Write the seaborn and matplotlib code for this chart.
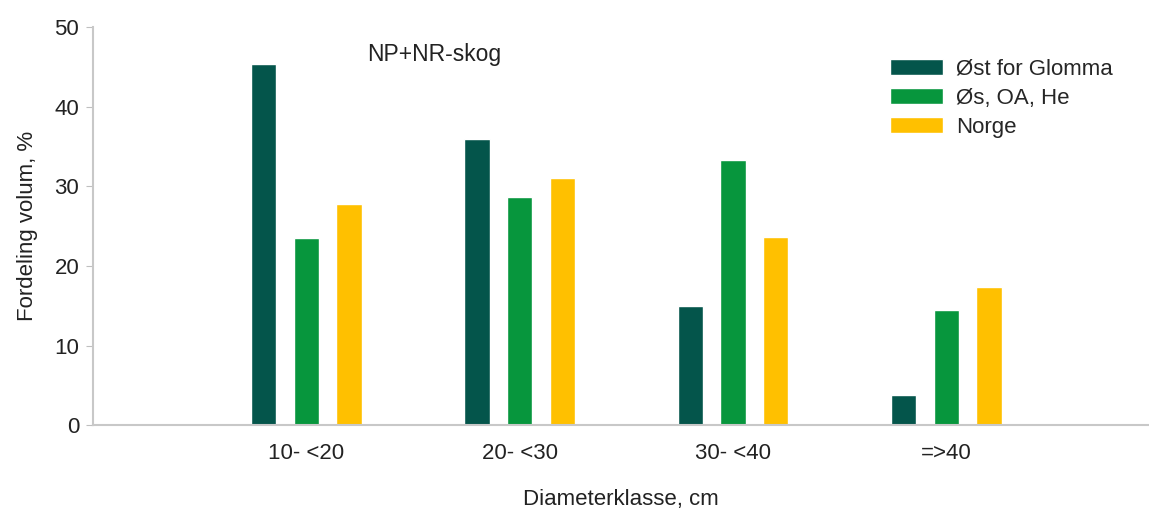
import matplotlib
matplotlib.use('Agg')
import matplotlib.pyplot as plt
import seaborn as sns
import pandas as pd

categories = ['10- <20', '20- <30', '30- <40', '=>40']
series = ['Øst for Glomma', 'Øs, OA, He', 'Norge']
ost_for_glomma = [45.3, 35.9, 15.0, 3.8]
os_oa_he = [23.5, 28.7, 33.3, 14.4]
norge = [27.8, 31.0, 23.6, 17.3]
colors = ['#04554B', '#07963D', '#FFC000']

sns.set_style('white')
plt.rcParams['font.family'] = ['Liberation Sans', 'DejaVu Sans']

rows = []
for name, vals in zip(series, [ost_for_glomma, os_oa_he, norge]):
    for cat, v in zip(categories, vals):
        rows.append({'Diameterklasse': cat, 'Serie': name, 'Verdi': v})
data = pd.DataFrame(rows)

fig = plt.figure(figsize=(11.49, 5.08), dpi=100)
ax = fig.add_axes([0.081, 0.163, 0.919, 0.784])

sns.barplot(data=data, x='Diameterklasse', y='Verdi', hue='Serie',
            order=categories, hue_order=series, palette=colors,
            width=0.6, gap=0.41, ax=ax, saturation=1)

ax.set_xlim(-1, 3.95)
ax.set_ylim(0, 50)
ax.set_yticks([0, 10, 20, 30, 40, 50])
ax.tick_params(axis='y', left=True, length=5, color='#BFBFBF', labelsize=16,
               labelcolor='#222222', pad=5)
ax.tick_params(axis='x', bottom=False, labelsize=16, labelcolor='#222222', pad=9)
for s in ['top', 'right']:
    ax.spines[s].set_visible(False)
for s in ['left', 'bottom']:
    ax.spines[s].set_color('#C8C8C8')
    ax.spines[s].set_linewidth(1.5)

ax.set_xlabel('Diameterklasse, cm', fontsize=16, color='#222222', labelpad=18)
ax.set_ylabel('Fordeling volum, %', fontsize=16, color='#222222', labelpad=12)

ax.text(0.6, 46.6, 'NP+NR-skog', fontsize=16.5, color='#222222', ha='center', va='center')

ax.legend(loc='upper left', bbox_to_anchor=(0.755, 0.92), frameon=False,
          borderaxespad=0, borderpad=0,
          fontsize=16, handlelength=2.35, handleheight=0.77, labelspacing=0.36,
          handletextpad=0.6)

plt.savefig('out.png', dpi=100)
plt.close()
